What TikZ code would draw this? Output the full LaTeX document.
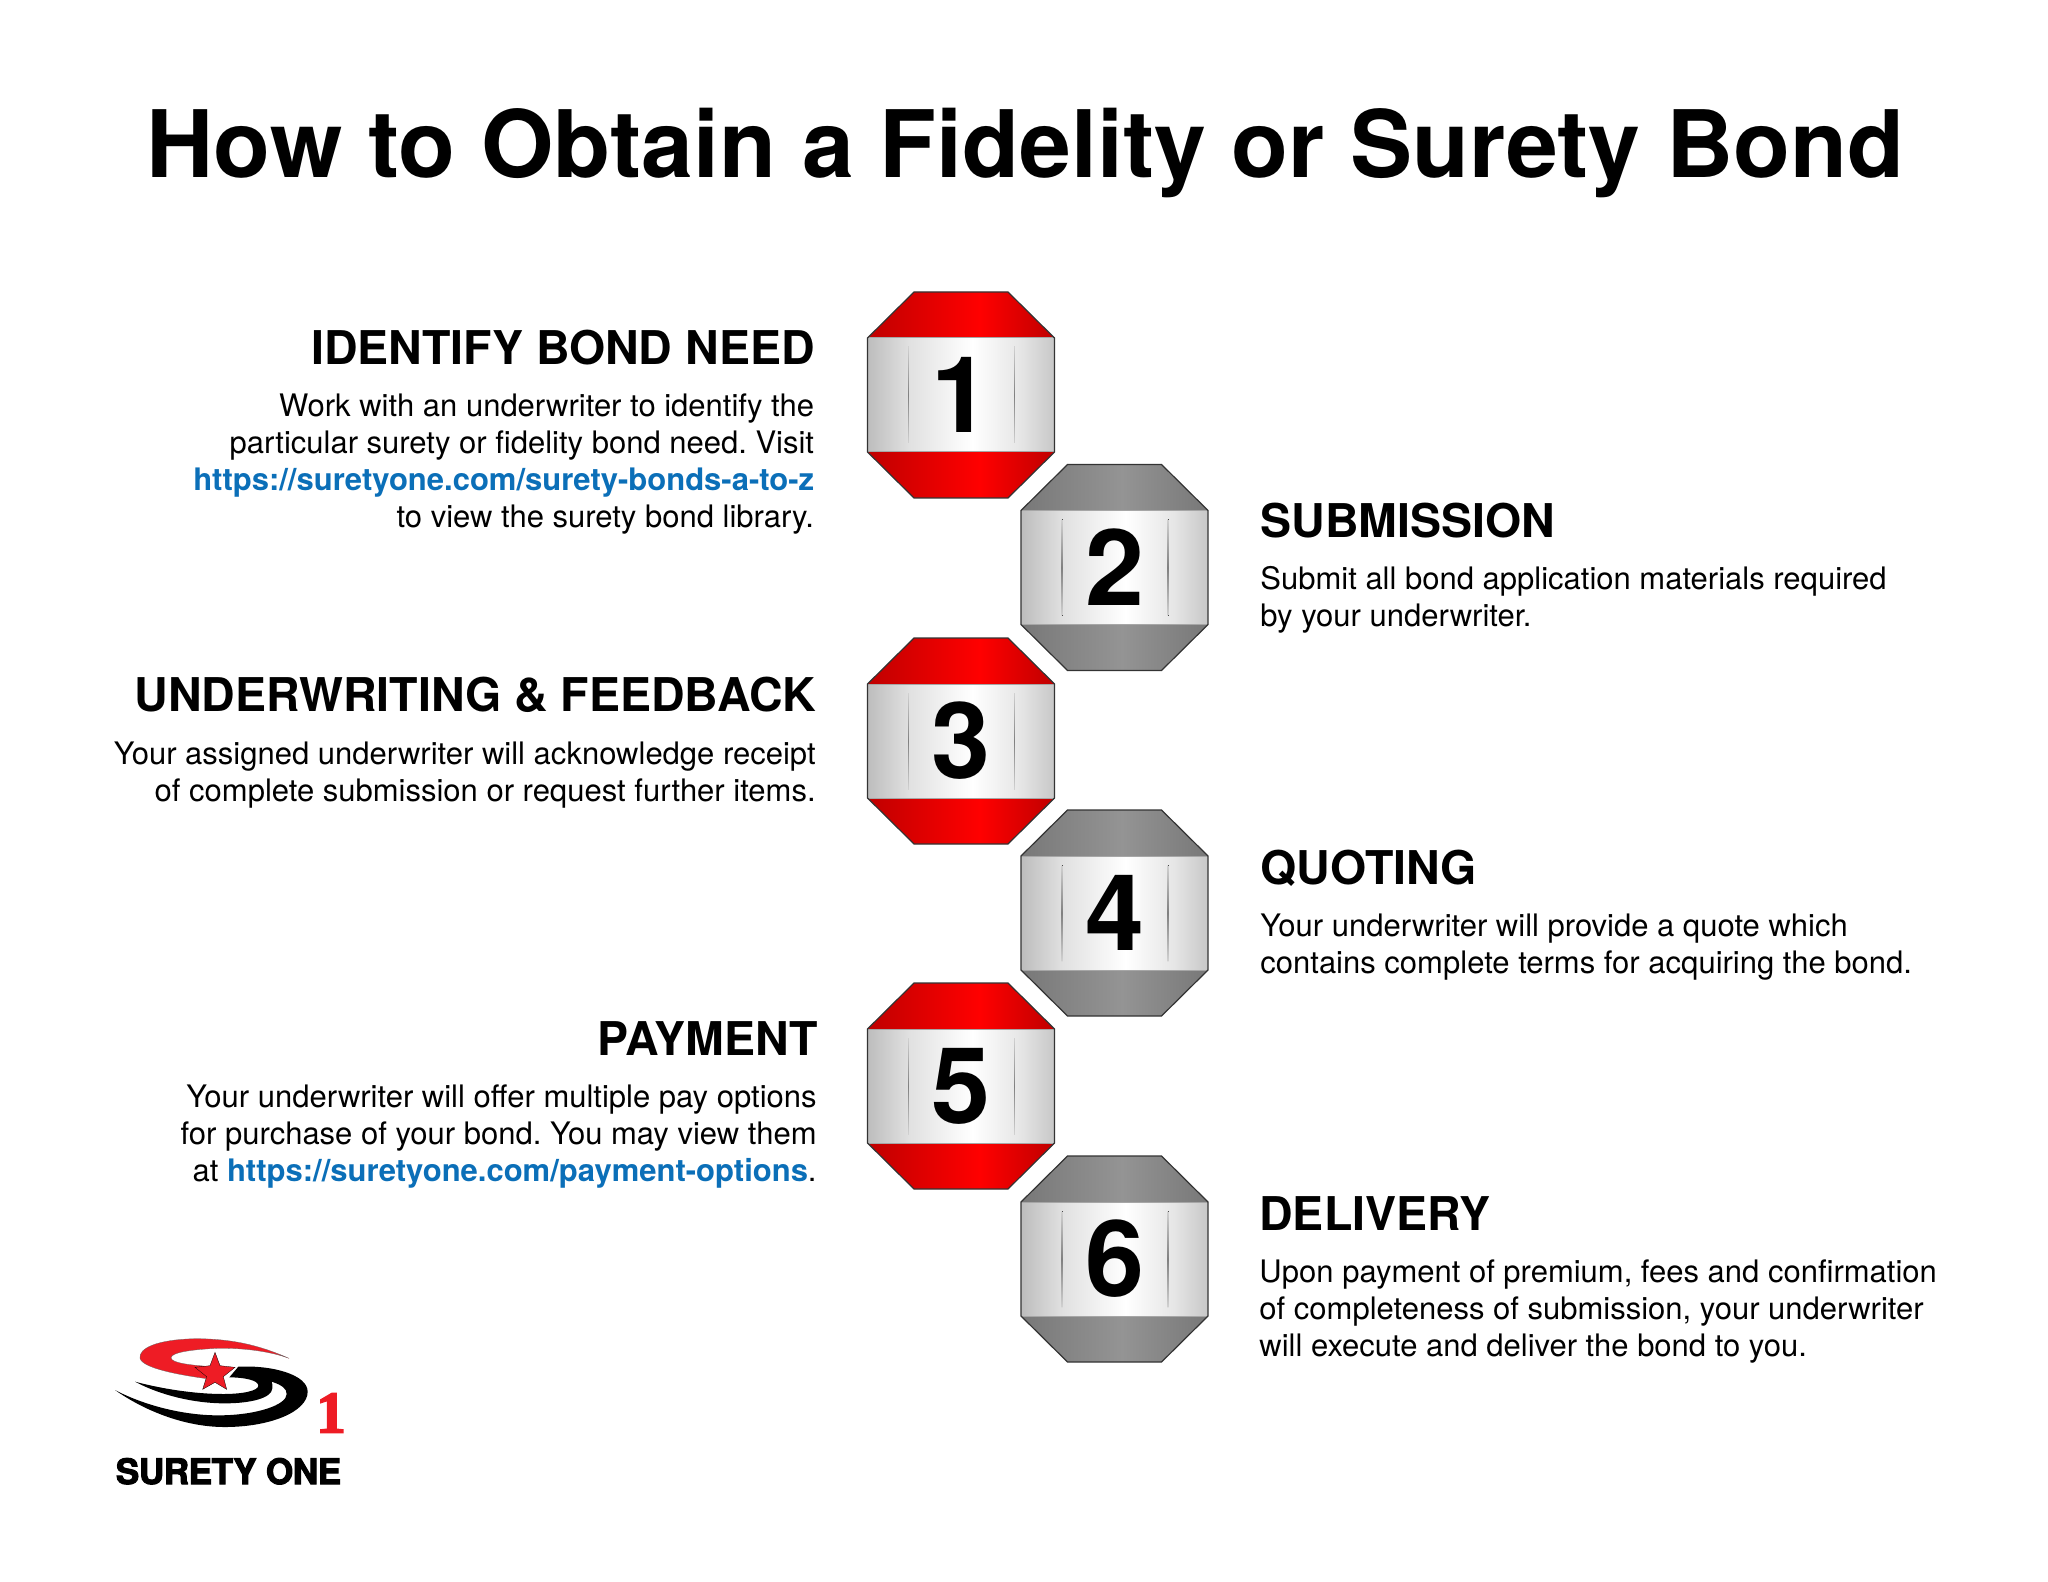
\documentclass[tikz,border=0pt]{standalone}
\usepackage{fontspec}
\usepackage{xcolor}
\setmainfont{TeX Gyre Heros}
\newfontfamily\logofont{TeX Gyre Heros}[BoldFeatures={FakeBold=3,LetterSpace=-1}]
\newfontfamily\logoserif{Liberation Serif}[BoldFeatures={FakeBold=3}]
\usetikzlibrary{positioning}
\definecolor{linkblue}{HTML}{0B6FB8}
\definecolor{logored}{HTML}{EE1C25}
\pgfdeclarehorizontalshading{redcap}{100bp}{color(0bp)=(red!75!black); color(25bp)=(red!75!black); color(55bp)=(red); color(75bp)=(red!75!black); color(100bp)=(red!75!black)}
\pgfdeclarehorizontalshading{greycap}{100bp}{color(0bp)=(black!53); color(25bp)=(black!53); color(52bp)=(black!42); color(75bp)=(black!53); color(100bp)=(black!53)}
\pgfdeclarehorizontalshading{bandface}{100bp}{color(0bp)=(black!26); color(25bp)=(black!26); color(36bp)=(black!12); color(53bp)=(white); color(66bp)=(black!10); color(75bp)=(black!22); color(100bp)=(black!22)}
\tikzset{
    x=0.5pt, y=-0.5pt,
    titletext/.style={font=\fontsize{46.55}{52}\selectfont\bfseries},
    headtext/.style={font=\fontsize{23.25}{28}\selectfont\bfseries},
    bodytext/.style={font=\fontsize{15.5}{18.65}\selectfont\frenchspacing, inner sep=0pt},
    leftblock/.style={anchor=north east, align=right},
    rightblock/.style={anchor=north west, align=left},
    numtext/.style={font=\fontsize{53}{60}\selectfont\bfseries},
    outline/.style={draw=black!80, line width=0.6pt},
    bandmark/.style={top color=black!18, bottom color=black!18, middle color=black!50},
}
\newcommand{\lnk}[1]{\textcolor{linkblue}{\bfseries #1}}
\begin{document}
\begin{tikzpicture}
    \useasboundingbox (0,0) rectangle (2048,1582);
    \node[titletext] (title) at (1025.5,153) {How to Obtain a Fidelity or Surety Bond};
    \foreach \i/\cx/\cy/\capfill in {1/961/395/redcap,2/1114.5/567.5/greycap,3/961/741/redcap,4/1114.5/913/greycap,5/961/1086/redcap,6/1114.5/1259/greycap} {
        \begin{scope}[shift={(\cx,\cy)}]
            \shade[shading=\capfill] (-93.5,-57) -- (-47,-103) -- (47,-103) -- (93.5,-57) -- cycle;
            \shade[shading=\capfill] (-93.5,57) -- (-47,103) -- (47,103) -- (93.5,57) -- cycle;
            \shade[shading=bandface] (-93.5,-57) rectangle (93.5,57);
            \fill[bandmark] (-53,-48) rectangle (-52.2,48);
            \fill[bandmark] (53,-48) rectangle (53.8,48);
            \draw[black!35, line width=0.5pt] (-93.5,-57) -- (93.5,-57) (-93.5,57) -- (93.5,57);
            \draw[outline] (-93.5,-57) -- (-47,-103) -- (47,-103) -- (93.5,-57) -- (93.5,57) -- (47,103) -- (-47,103) -- (-93.5,57) -- cycle;
            \node[numtext] (num\i) at (0,0) {\i};
        \end{scope}
    }
    % left column
    \node[headtext, anchor=base east, inner sep=0pt] (head1) at (815,365) {IDENTIFY BOND NEED};
    \node[bodytext, leftblock] (body1) at (814.5,393) {Work with an underwriter to identify the\\particular surety or fidelity bond need. Visit\\\lnk{https://suretyone.com/surety-bonds-a-to-z}\\to view the surety bond library.};
    \node[headtext, anchor=base east, inner sep=0pt] (head3) at (816.5,711.5) {UNDERWRITING \& FEEDBACK};
    \node[bodytext, leftblock] (body3) at (816,741) {Your assigned underwriter will acknowledge receipt\\of complete submission or request further items.};
    \node[headtext, anchor=base east, inner sep=0pt] (head5) at (818,1055.5) {PAYMENT};
    \node[bodytext, leftblock] (body5) at (817,1084) {Your underwriter will offer multiple pay options\\for purchase of your bond. You may view them\\at \lnk{https://suretyone.com/payment-options}.};
    % right column
    \node[headtext, anchor=base west, inner sep=0pt] (head2) at (1260,537.5) {SUBMISSION};
    \node[bodytext, rightblock] (body2) at (1260,565.5) {Submit all bond application materials required\\by your underwriter.};
    \node[headtext, anchor=base west, inner sep=0pt] (head4) at (1260,884) {QUOTING};
    \node[bodytext, rightblock] (body4) at (1260,913.5) {Your underwriter will provide a quote which\\contains complete terms for acquiring the bond.};
    \node[headtext, anchor=base west, inner sep=0pt] (head6) at (1259,1230) {DELIVERY};
    \node[bodytext, rightblock] (body6) at (1259,1259) {Upon payment of premium, fees and confirmation\\of completeness of submission, your underwriter\\will execute and deliver the bond to you.};
    % logo, in crop pixels
    \begin{scope}[shift={(100,1320)}, x=0.16667pt, y=-0.16667pt]
        \filldraw[fill=logored, draw=black!60, line width=0.15pt] (567,115) .. controls (470,72) and (390,57) .. (290,56)
            .. controls (170,58) and (115,85) .. (120,115)
            .. controls (128,145) and (240,165) .. (320,176) -- (335,140)
            .. controls (280,136) and (213,130) .. (213,113)
            .. controls (215,95) and (290,88) .. (350,85)
            .. controls (440,83) and (520,97) .. (567,115) -- cycle;
        \fill[black] (45,210) .. controls (130,270) and (250,320) .. (370,321)
            .. controls (510,322) and (623,275) .. (623,215)
            .. controls (623,165) and (520,135) .. (415,140) -- (388,172)
            .. controls (430,172) and (475,180) .. (475,197)
            .. controls (475,212) and (430,222) .. (370,222)
            .. controls (280,222) and (180,205) .. (105,185)
            .. controls (180,225) and (280,250) .. (375,250)
            .. controls (450,250) and (515,235) .. (517,205)
            .. controls (518,198) and (517,190) .. (515,185)
            .. controls (545,195) and (560,205) .. (560,222)
            .. controls (560,255) and (470,285) .. (360,286)
            .. controls (250,287) and (130,255) .. (45,210) -- cycle;
        \filldraw[fill=logored, draw=black, line width=0.15pt] (345,97) -- (360,137) -- (405,142) -- (370,170) -- (380,208) -- (345,187) -- (308,208) -- (320,170) -- (285,142) -- (330,137) -- cycle;
    \end{scope}
    \node[font=\fontsize{29.5}{30}\selectfont\logoserif\bfseries, text=logored, inner sep=0pt, anchor=base] (logoone) at (331,1432.5) {1};
    \node[font=\fontsize{17.5}{17.5}\selectfont\logofont\bfseries, inner sep=0pt, anchor=base] (logoname) at (228.5,1484) {SURETY ONE};
\end{tikzpicture}
\end{document}
